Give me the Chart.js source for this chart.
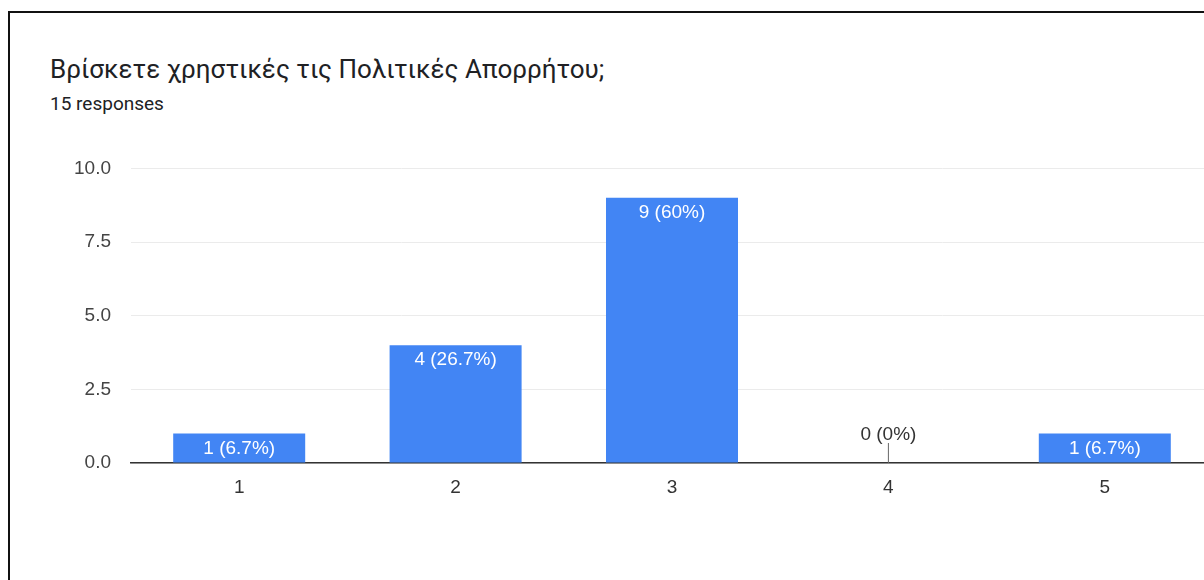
<!DOCTYPE html>
<html lang="el">
<head>
    <meta charset="UTF-8">
    <title>Βρίσκετε χρηστικές τις Πολιτικές Απορρήτου;</title>
    <script src="https://cdn.jsdelivr.net/npm/chart.js"></script>
    <style>
        html, body { margin: 0; padding: 0; background: #fff; overflow: hidden; width: 1204px; height: 580px; }
        body { position: relative; font-family: Roboto, "Noto Sans", Arial, sans-serif; }
        .frame { position: absolute; left: 8px; top: 11px; width: 1300px; height: 700px;
                 border-top: 2px solid #111; border-left: 2px solid #111; }
        .title { position: absolute; left: 50px; top: 54px; font-size: 26px; color: #202124; white-space: nowrap; }
        .sub { position: absolute; left: 50px; top: 92px; font-size: 19px; color: #202124; }
        .box { position: absolute; left: 0; top: 137px; width: 1240px; height: 443px; }
    </style>
</head>
<body>
    <div class="frame"></div>
    <div class="title">Βρίσκετε χρηστικές τις Πολιτικές Απορρήτου;</div>
    <div class="sub">15 responses</div>
    <div class="box"><canvas id="chart"></canvas></div>

    <script>
        // данные с картинки
        const categories = ['1', '2', '3', '4', '5'];
        const counts = [1, 4, 9, 0, 1];
        const percents = ['6.7%', '26.7%', '60%', '0%', '6.7%'];
        const yTicks = [0, 2.5, 5, 7.5, 10];

        const chartFont = '"Liberation Sans", Arial, sans-serif';

        // подписи на столбцах
        const barLabels = {
            id: 'barLabels',
            afterDatasetsDraw(chart) {
                const ctx = chart.ctx;
                const meta = chart.getDatasetMeta(0);
                ctx.save();
                ctx.font = '19px ' + chartFont;
                ctx.textAlign = 'center';
                ctx.textBaseline = 'middle';
                meta.data.forEach((bar, i) => {
                    const text = counts[i] + ' (' + percents[i] + ')';
                    if (counts[i] === 0) {
                        ctx.strokeStyle = '#666';
                        ctx.lineWidth = 1;
                        ctx.beginPath();
                        ctx.moveTo(bar.x, bar.y);
                        ctx.lineTo(bar.x, bar.y - 20);
                        ctx.stroke();
                        ctx.fillStyle = '#333';
                        ctx.fillText(text, bar.x, bar.y - 28);
                    } else {
                        ctx.fillStyle = '#ffffff';
                        ctx.fillText(text, bar.x, bar.y + 15);
                    }
                });
                ctx.restore();
            }
        };

        new Chart(document.getElementById('chart'), {
            type: 'bar',
            data: {
                labels: categories,
                datasets: [{
                    data: counts,
                    backgroundColor: '#4285f4',
                    borderWidth: 0,
                    categoryPercentage: 0.61,
                    barPercentage: 1.0
                }]
            },
            options: {
                responsive: true,
                maintainAspectRatio: false,
                animation: false,
                layout: { padding: { top: 5, right: 27, left: 0, bottom: 0 } },
                plugins: { legend: { display: false }, tooltip: { enabled: false } },
                scales: {
                    x: {
                        grid: { display: false, drawTicks: false },
                        border: { display: true, color: '#333', width: 1.5 },
                        ticks: { color: '#333', font: { size: 19, family: chartFont }, padding: 13 },
                        afterFit(scale) { scale.height = 117; }
                    },
                    y: {
                        min: 0,
                        max: 10,
                        afterBuildTicks(scale) { scale.ticks = yTicks.map(v => ({ value: v })); },
                        grid: { color: '#ebebeb', drawTicks: false, lineWidth: 1 },
                        border: { display: false },
                        ticks: {
                            color: '#444',
                            font: { size: 19, family: chartFont },
                            padding: 20,
                            callback: v => v.toFixed(1)
                        },
                        afterFit(scale) { scale.width = 131; }
                    }
                }
            },
            plugins: [barLabels]
        });
    </script>
</body>
</html>
